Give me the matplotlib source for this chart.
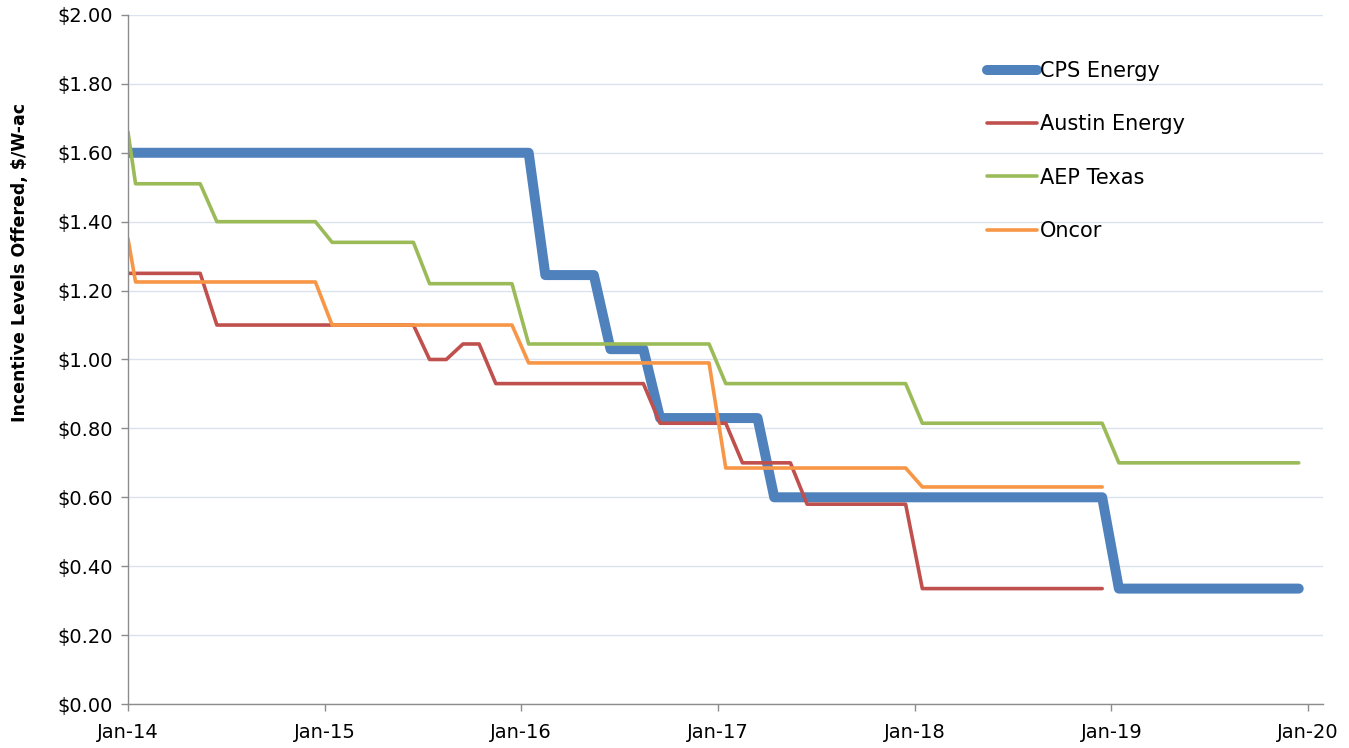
import numpy as np
import matplotlib
matplotlib.use('Agg')
import matplotlib.pyplot as plt
import matplotlib.dates as mdates
from matplotlib.ticker import FuncFormatter

cps_dates = ['2014-01-01', '2016-01-15', '2016-02-15', '2016-05-15', '2016-06-15', '2016-08-15',
             '2016-09-15', '2017-03-15', '2017-04-15', '2018-12-15', '2019-01-15', '2019-12-15']
cps_vals = [1.60, 1.60, 1.245, 1.245, 1.03, 1.03, 0.83, 0.83, 0.60, 0.60, 0.335, 0.335]

austin_dates = ['2014-01-01', '2014-05-15', '2014-06-15', '2015-06-15', '2015-07-15', '2015-08-15',
                '2015-09-15', '2015-10-15', '2015-11-15', '2016-08-15', '2016-09-15', '2017-01-15',
                '2017-02-15', '2017-05-15', '2017-06-15', '2017-12-15', '2018-01-15', '2018-12-15']
austin_vals = [1.25, 1.25, 1.10, 1.10, 1.00, 1.00, 1.045, 1.045, 0.93, 0.93, 0.815, 0.815,
               0.70, 0.70, 0.58, 0.58, 0.335, 0.335]

aep_dates = ['2014-01-01', '2014-01-15', '2014-05-15', '2014-06-15', '2014-12-15', '2015-01-15',
             '2015-06-15', '2015-07-15', '2015-12-15', '2016-01-15', '2016-12-15', '2017-01-15',
             '2017-12-15', '2018-01-15', '2018-12-15', '2019-01-15', '2019-12-15']
aep_vals = [1.66, 1.51, 1.51, 1.40, 1.40, 1.34, 1.34, 1.22, 1.22, 1.045, 1.045, 0.93,
            0.93, 0.815, 0.815, 0.70, 0.70]

oncor_dates = ['2014-01-01', '2014-01-15', '2014-12-15', '2015-01-15', '2015-12-15', '2016-01-15',
               '2016-12-15', '2017-01-15', '2017-12-15', '2018-01-15', '2018-12-15']
oncor_vals = [1.35, 1.225, 1.225, 1.10, 1.10, 0.99, 0.99, 0.685, 0.685, 0.63, 0.63]

year_ticks = ['2014-01-01', '2015-01-01', '2016-01-01', '2017-01-01', '2018-01-01', '2019-01-01', '2020-01-01']
y_ticks = [0.0, 0.2, 0.4, 0.6, 0.8, 1.0, 1.2, 1.4, 1.6, 1.8, 2.0]

plt.rcParams['font.family'] = ['DejaVu Sans']

fig = plt.figure(figsize=(13.49, 7.48), dpi=100)
ax = fig.add_axes([0.0949, 0.0588, 0.8858, 0.9212])

d = lambda s: np.array(s, dtype='datetime64[D]')

ax.plot(d(cps_dates), cps_vals, color='#4F81BD', lw=7.2, label='CPS Energy',
        solid_capstyle='round', solid_joinstyle='round')
ax.plot(d(austin_dates), austin_vals, color='#C0504D', lw=2.6, label='Austin Energy',
        solid_capstyle='round', solid_joinstyle='round')
ax.plot(d(aep_dates), aep_vals, color='#9BBB59', lw=2.6, label='AEP Texas',
        solid_capstyle='round', solid_joinstyle='round')
ax.plot(d(oncor_dates), oncor_vals, color='#F79646', lw=2.6, label='Oncor',
        solid_capstyle='round', solid_joinstyle='round')

ax.set_xlim(np.datetime64('2014-01-01'), np.datetime64('2020-01-29'))
ax.set_ylim(0, 2.0)
ax.set_xticks(d(year_ticks))
ax.xaxis.set_major_formatter(mdates.DateFormatter('%b-%y'))
ax.set_yticks(y_ticks)
ax.yaxis.set_major_formatter(FuncFormatter(lambda v, p: '${:.2f}'.format(v)))

ax.grid(axis='y', color='#D9E2EE', lw=1.0)
ax.set_axisbelow(True)
for s in ['top', 'right']:
    ax.spines[s].set_visible(False)
for s in ['left', 'bottom']:
    ax.spines[s].set_color('#8C8C8C')
    ax.spines[s].set_linewidth(1.0)
ax.tick_params(axis='both', colors='#8C8C8C', length=5, width=1, labelsize=14, labelcolor='black')
ax.tick_params(axis='x', pad=9)
ax.tick_params(axis='y', pad=6)

fig.text(20 / 1349, 1 - 263 / 748, 'Incentive Levels Offered, $/W-ac', rotation=90,
         ha='center', va='center', fontsize=12.5, fontweight='bold')

ax.legend(loc='upper left', bbox_to_anchor=(987 / 1349, 1 - 61 / 748), bbox_transform=fig.transFigure,
          frameon=False, fontsize=15, handlelength=2.4, handletextpad=0.15,
          labelspacing=1.6, borderpad=0, borderaxespad=0)

fig.savefig('out.png', dpi=100)
